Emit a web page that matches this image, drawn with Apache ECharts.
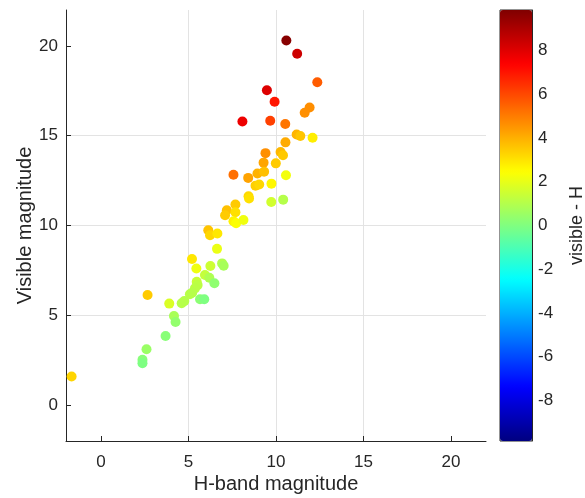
<!DOCTYPE html>
<html>
<head>
<meta charset="utf-8">
<script src="https://cdn.jsdelivr.net/npm/echarts@6/dist/echarts.min.js"></script>
<style>html,body{margin:0;padding:0;background:#fff}#c{width:585px;height:498px}</style>
</head>
<body>
<div id="c"></div>
<script>
// H-band magnitude (x) and visible magnitude (y)
const hBand = [10.59,11.21,12.36,9.48,9.92,11.92,11.64,8.08,9.67,10.53,11.18,11.39,12.09,10.54,9.40,10.26,10.40,9.29,9.99,7.57,8.41,8.94,9.32,8.83,9.04,9.74,10.57,8.43,8.46,9.73,10.41,7.68,7.19,7.09,7.68,7.57,7.72,8.14,6.13,6.23,6.65,6.63,5.20,5.45,6.25,6.92,7.01,5.94,6.19,6.48,5.47,5.52,5.37,5.08,5.21,4.61,4.76,3.90,5.66,5.90,2.66,4.17,4.26,3.69,2.60,2.37,2.37,-1.68];
const visible = [20.30,19.56,17.98,17.53,16.89,16.57,16.28,15.79,15.83,15.65,15.07,14.98,14.89,14.63,14.03,14.09,13.91,13.50,13.46,12.83,12.65,12.90,13.00,12.22,12.28,12.33,12.80,11.63,11.50,11.31,11.44,11.17,10.85,10.57,10.74,10.24,10.13,10.31,9.74,9.46,9.55,8.70,8.13,7.61,7.74,7.89,7.76,7.24,7.09,6.78,6.87,6.68,6.50,6.17,6.26,5.67,5.79,5.65,5.89,5.89,6.13,4.96,4.63,3.85,3.11,2.52,2.33,1.59];
const axisTicks = [0, 5, 10, 15, 20];
const colorTicks = [-8, -6, -4, -2, 0, 2, 4, 6, 8];
const colorRange = [-9.85, 9.85];
const jet = ['#000080','#0000ff','#0080ff','#00ffff','#80ff80','#ffff00','#ff8000','#ff0000','#800000'];

const pts = hBand.map((h, i) => [h, visible[i], +(visible[i] - h).toFixed(2)]);

const txt = '#262626';
const font = 'Liberation Sans, Arial, sans-serif';
const chart = echarts.init(document.getElementById('c'), null, {renderer: 'canvas'});
chart.setOption({
  animation: false,
  backgroundColor: '#fff',
  textStyle: {fontFamily: font},
  grid: [
    {left: 66, right: 99, top: 10, bottom: 57, containLabel: false, outerBoundsMode: 'none'},
    {left: 500, width: 32, top: 10, height: 431, show: true, borderColor: txt, borderWidth: 1, backgroundColor: 'transparent', containLabel: false, outerBoundsMode: 'none'}
  ],
  xAxis: [
    {
      gridIndex: 0, type: 'value', min: -2, max: 22,
      name: 'H-band magnitude', nameLocation: 'middle', nameGap: 33, nameMoveOverlap: false,
      nameTextStyle: {color: txt, fontSize: 20, fontFamily: font},
      axisLine: {show: true, onZero: false, lineStyle: {color: txt, width: 1}},
      axisTick: {show: true, inside: true, length: 5, customValues: axisTicks, lineStyle: {color: txt}},
      axisLabel: {color: txt, fontSize: 17, margin: 13, fontFamily: font, customValues: axisTicks},
      splitLine: {show: true, showMinLine: false, showMaxLine: false, lineStyle: {color: '#e3e3e3', width: 1}}
    },
    {gridIndex: 1, type: 'value', min: 0, max: 1, show: false}
  ],
  yAxis: [
    {
      gridIndex: 0, type: 'value', min: -2, max: 22,
      name: 'Visible magnitude', nameLocation: 'middle', nameGap: 31, nameRotate: 90, nameMoveOverlap: false,
      nameTextStyle: {color: txt, fontSize: 20, fontFamily: font},
      axisLine: {show: true, onZero: false, lineStyle: {color: txt, width: 1}},
      axisTick: {show: true, inside: true, length: 5, customValues: axisTicks, lineStyle: {color: txt}},
      axisLabel: {color: txt, fontSize: 17, margin: 8, fontFamily: font, customValues: axisTicks},
      splitLine: {show: true, showMinLine: false, showMaxLine: false, lineStyle: {color: '#e3e3e3', width: 1}}
    },
    {
      gridIndex: 1, type: 'value', min: colorRange[0], max: colorRange[1], position: 'right',
      name: 'visible - H', nameLocation: 'middle', nameGap: 36, nameRotate: 90, nameMoveOverlap: false,
      nameTextStyle: {color: txt, fontSize: 18, fontFamily: font},
      axisLine: {show: true, onZero: false, lineStyle: {color: txt, width: 1}},
      axisTick: {show: true, inside: true, length: 4, customValues: colorTicks, lineStyle: {color: txt}},
      axisLabel: {color: txt, fontSize: 17, margin: 6, fontFamily: font, customValues: colorTicks},
      splitLine: {show: false}
    }
  ],
  visualMap: {
    type: 'continuous', show: true, dimension: 2, seriesIndex: 0,
    min: colorRange[0], max: colorRange[1],
    left: 500, top: 10, itemWidth: 32, itemHeight: 431, padding: 0,
    calculable: false, hoverLink: false, text: null, showLabel: false,
    inRange: {color: jet}, z: 1
  },
  series: [{
    type: 'scatter', xAxisIndex: 0, yAxisIndex: 0, data: pts,
    symbol: 'circle', symbolSize: 10,
    itemStyle: {opacity: 1}
  }]
});
</script>
</body>
</html>
